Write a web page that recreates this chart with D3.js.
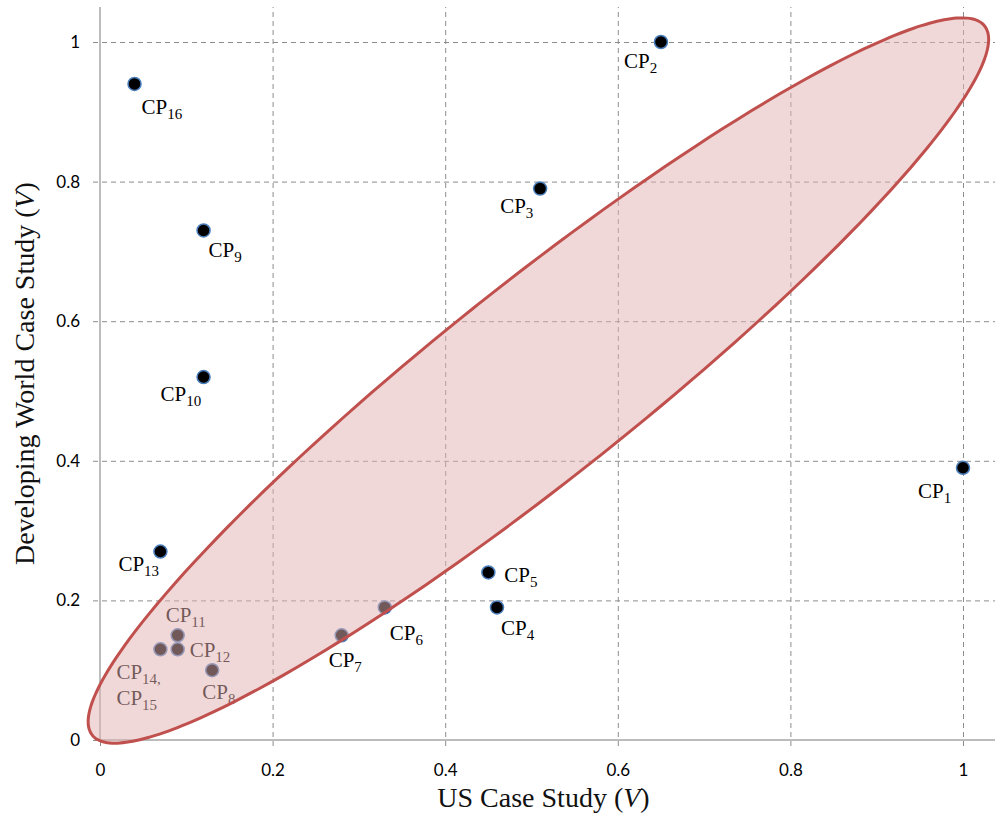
<!DOCTYPE html>
<html>
<head>
<meta charset="utf-8">
<script src="https://cdn.jsdelivr.net/npm/d3@7"></script>
<style>
  body { margin: 0; background: #fff; }
  .tick text { font-family: Lato, "Open Sans", sans-serif; font-size: 17px; fill: #000; }
  .lbl { font-family: "Liberation Serif", "Times New Roman", serif; font-size: 21px; }
  .title { font-family: "Liberation Serif", "Times New Roman", serif; font-size: 28px; fill: #111; }
</style>
</head>
<body>
<div id="chart"></div>
<script>
// checkpoints (US value, developing world value)
const names = ['CP1','CP2','CP3','CP4','CP5','CP6','CP7','CP8','CP9','CP10','CP11','CP12','CP13','CP14,15','CP16']
const usVals = [1.00, 0.65, 0.51, 0.46, 0.45, 0.33, 0.28, 0.13, 0.12, 0.12, 0.09, 0.09, 0.07, 0.07, 0.04]
const dwVals = [0.39, 1.00, 0.79, 0.19, 0.24, 0.19, 0.15, 0.10, 0.73, 0.52, 0.15, 0.13, 0.27, 0.13, 0.94]
const tickVals = [0, 0.2, 0.4, 0.6, 0.8, 1]

// ellipse: centre and two conjugate semi-axes, in data units
const ellCentre = [0.508, 0.515]
const ellMajor = [0.517, 0.508]
const ellMinor = [0.070, -0.109]

// label placement relative to the dot (px)
const labelOffset = {
  'CP1': [-45, 30], 'CP2': [-37, 26], 'CP3': [-40, 24], 'CP4': [4, 28], 'CP5': [16, 10],
  'CP6': [5, 33], 'CP7': [-13, 32], 'CP8': [-10, 29], 'CP9': [5, 27], 'CP10': [-43, 24],
  'CP11': [-12, -13], 'CP12': [12, 8], 'CP13': [-42, 19], 'CP14,15': [-44, 30], 'CP16': [7, 30]
}

const W = 996, H = 816
const margin = {left: 100, top: 7, right: 1, bottom: 76}
const pw = W - margin.left - margin.right
const ph = H - margin.top - margin.bottom

const svg = d3.select('#chart').append('svg')
  .attr('width', W).attr('height', H)

const g = svg.append('g').attr('transform', `translate(${margin.left},${margin.top})`)

let x = d3.scaleLinear().domain([0, pw / 863]).range([0, pw])
let y = d3.scaleLinear().domain([0, ph / 698]).range([ph, 0])

// grid + ticks
const yAx = g.append('g')
  .call(d3.axisLeft(y).tickValues(tickVals).tickFormat(d3.format('~g')).tickSizeInner(-pw).tickSizeOuter(0).tickPadding(20))
yAx.select('.domain').remove()
yAx.selectAll('.tick line')
  .attr('x1', -7)
  .attr('stroke', '#8c8c8c').attr('stroke-dasharray', '5,4')
yAx.selectAll('.tick').filter(d => d === 0).select('line').attr('x2', 0)

const xAx = g.append('g').attr('transform', `translate(0,${ph})`)
  .call(d3.axisBottom(x).tickValues(tickVals).tickFormat(d3.format('~g')).tickSizeInner(-ph).tickSizeOuter(0).tickPadding(24))
xAx.select('.domain').remove()
xAx.selectAll('.tick line')
  .attr('y1', 6)
  .attr('stroke', '#8c8c8c').attr('stroke-dasharray', '5,4')
xAx.selectAll('.tick').filter(d => d === 0).select('line').attr('y2', 0)

// axis lines
g.append('line').attr('x1', 0).attr('x2', 0).attr('y1', 0).attr('y2', ph)
  .attr('stroke', '#a6a6a6').attr('stroke-width', 1.5)
g.append('line').attr('x1', 0).attr('x2', pw).attr('y1', ph).attr('y2', ph)
  .attr('stroke', '#a6a6a6').attr('stroke-width', 1.5)

const pts = names.map((n, i) => ({name: n, us: usVals[i], dw: dwVals[i]}))

// dots
g.append('g').selectAll('circle')
  .data(pts)
  .enter()
  .append('circle')
  .attr('cx', d => x(d.us))
  .attr('cy', d => y(d.dw))
  .attr('r', 6.5)
  .attr('fill', '#000')
  .attr('stroke', '#4a7ebb')
  .attr('stroke-width', 1.5)

// labels
const addLabel = (sel, main, sub) => {
  sel.append('tspan').text(main)
  sel.append('tspan').attr('dy', 5).attr('font-size', 15).text(sub)
}

const labels = g.append('g')
pts.forEach(d => {
  let off = labelOffset[d.name]
  let lx = x(d.us) + off[0]
  let ly = y(d.dw) + off[1]
  if (d.name === 'CP14,15') {
    addLabel(labels.append('text').attr('class', 'lbl').attr('x', lx).attr('y', ly), 'CP', '14,')
    addLabel(labels.append('text').attr('class', 'lbl').attr('x', lx).attr('y', ly + 26), 'CP', '15')
  } else {
    addLabel(labels.append('text').attr('class', 'lbl').attr('x', lx).attr('y', ly), 'CP', d.name.slice(2))
  }
})

// ellipse
const ellPts = d3.range(0, 360, 2).map(a => {
  let t = a * Math.PI / 180
  return [
    ellCentre[0] + Math.cos(t) * ellMajor[0] + Math.sin(t) * ellMinor[0],
    ellCentre[1] + Math.cos(t) * ellMajor[1] + Math.sin(t) * ellMinor[1]
  ]
})

g.append('path')
  .datum(ellPts)
  .attr('d', d3.line().x(d => x(d[0])).y(d => y(d[1])).curve(d3.curveCardinalClosed))
  .attr('fill', 'rgb(228,178,178)')
  .attr('fill-opacity', 0.5)
  .attr('stroke', '#c0504d')
  .attr('stroke-width', 3)

// titles
const xt = svg.append('text').attr('class', 'title')
  .attr('x', margin.left + x(0.5) + 12).attr('y', 807).attr('text-anchor', 'middle')
xt.append('tspan').text('US Case Study (')
xt.append('tspan').attr('font-style', 'italic').text('V')
xt.append('tspan').text(')')

const yt = svg.append('text').attr('class', 'title')
  .attr('transform', `translate(34,${margin.top + y(0.525)}) rotate(-90)`).attr('text-anchor', 'middle')
yt.append('tspan').text('Developing World Case Study (')
yt.append('tspan').attr('font-style', 'italic').text('V')
yt.append('tspan').text(')')
</script>
</body>
</html>
